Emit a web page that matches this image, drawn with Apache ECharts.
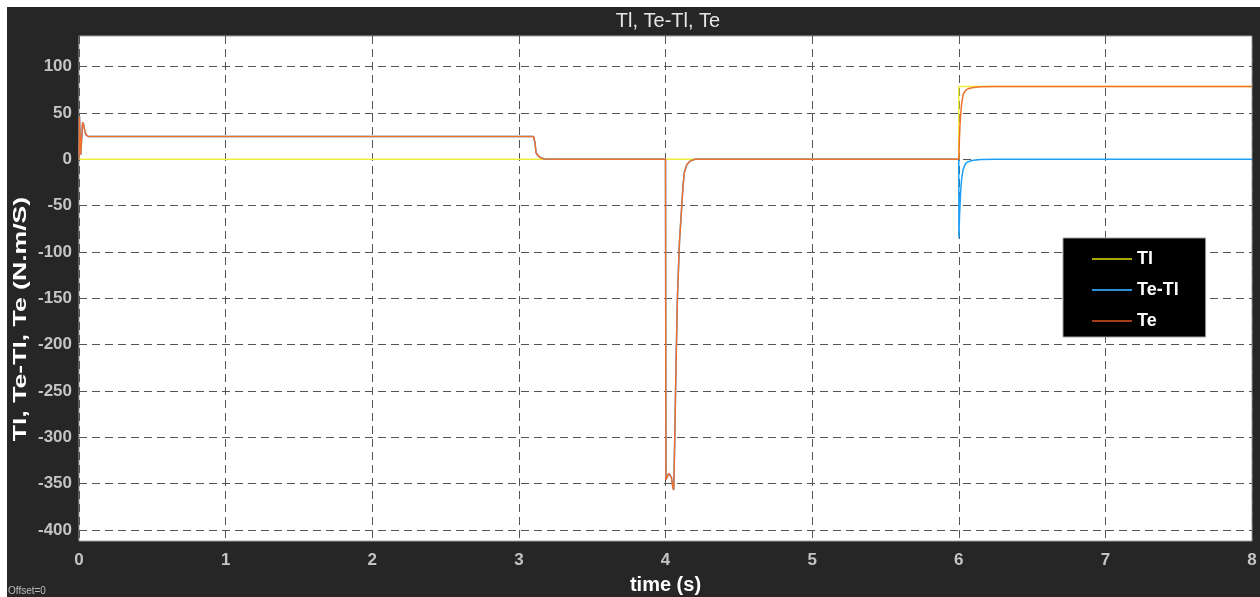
<!DOCTYPE html>
<html><head><meta charset="utf-8">
<script src="https://cdn.jsdelivr.net/npm/echarts@6/dist/echarts.min.js"></script>
<style>
html,body{margin:0;padding:0;background:#ffffff;width:1260px;height:597px;overflow:hidden;}
#bg{position:absolute;left:7px;top:7px;width:1253px;height:590px;background:#262626;}
#chart{position:absolute;left:0;top:0;width:1260px;height:597px;}
</style></head>
<body><div id="bg"></div><div id="chart"></div>
<script>
const xTicks = [0,1,2,3,4,5,6,7,8];
const yTicks = [-400,-350,-300,-250,-200,-150,-100,-50,0,50,100];
const seriesNames = ['Tl','Te-Tl','Te'];

// Tl (load torque)
const tlData = [[0,0],[6.0,0],[6.0,78.5],[8,78.5]];

// Te-Tl
const teTlData = [
 [0,0],[0.003,46],[0.008,22],[0.012,5],[0.018,22],[0.025,40],[0.032,37],[0.04,30],[0.05,26],[0.065,24.5],[0.1,24.5],
 [3.1,24.5],[3.11,18],[3.117,7],[3.13,4],[3.155,1],[3.18,0.3],[3.25,0],
 [4.0,0],[4.003,-346],[4.012,-348],[4.022,-339],[4.03,-337],[4.04,-343],[4.05,-354],[4.056,-357],[4.063,-303],[4.072,-220],[4.081,-151],[4.095,-90],[4.111,-50],[4.12,-28],[4.129,-14],[4.145,-6],[4.168,-2],[4.2,0],
 [6.0,0],[6.001,-85],[6.005,-62],[6.01,-45],[6.014,-32],[6.02,-21],[6.03,-11],[6.045,-5],[6.06,-3],[6.076,-2],[6.1,-1],[6.15,-0.3],[6.25,0],[8,0]
];

// Te (electromagnetic torque)
const teData = [
 [0,0],[0.003,46],[0.008,22],[0.012,5],[0.018,22],[0.025,40],[0.032,37],[0.04,30],[0.05,26],[0.065,24.5],[0.1,24.5],
 [3.1,24.5],[3.11,18],[3.117,7],[3.13,4],[3.155,1],[3.18,0.3],[3.25,0],
 [4.0,0],[4.003,-346],[4.012,-348],[4.022,-339],[4.03,-337],[4.04,-343],[4.05,-354],[4.056,-357],[4.063,-303],[4.072,-220],[4.081,-151],[4.095,-90],[4.111,-50],[4.12,-28],[4.129,-14],[4.145,-6],[4.168,-2],[4.2,0],
 [6.0,0],[6.004,20],[6.008,35],[6.014,50],[6.02,60],[6.03,70],[6.045,74],[6.06,75.8],[6.076,76.6],[6.1,77.4],[6.15,78.1],[6.25,78.5],[8,78.5]
];

const lineColors = ['#eeee3a','#1e9ff5','#f0702e'];
const legendColors = ['#a8a800','#2c8fd8','#a53c18'];
const FONT = 'Arial, "Liberation Sans", sans-serif';

const chart = echarts.init(document.getElementById('chart'), null, {renderer:'canvas'});
const datasets = [tlData, teTlData, teData];

chart.setOption({
  backgroundColor: 'transparent',
  animation: false,
  title: {
    text: 'Tl, Te-Tl, Te',
    left: 663, top: 6, textAlign: 'center',
    textStyle: {color:'#e6e6e6', fontSize:20, fontWeight:'normal', fontFamily: FONT}
  },
  grid: {
    left: 79, top: 36, width: 1173, height: 505,
    outerBoundsMode: 'none', containLabel: false,
    show: true, backgroundColor: '#ffffff', borderColor: '#a0a0a0', borderWidth: 1
  },
  legend: {
    orient: 'vertical',
    left: 1063, top: 238,
    backgroundColor: '#000000',
    borderColor: '#a0a0a0', borderWidth: 1, borderRadius: 0,
    padding: [12, 27, 7, 28],
    itemWidth: 40, itemHeight: 14, itemGap: 13,
    textStyle: {color:'#ffffff', fontSize:18, fontWeight:'bold', fontFamily: FONT},
    data: seriesNames.map((n,i)=>({name:n, lineStyle:{color:legendColors[i], width:2}, itemStyle:{color:legendColors[i], opacity:0}}))
  },
  xAxis: {
    type: 'value', min: 0, max: 8, interval: 1,
    name: 'time (s)', nameLocation: 'middle', nameGap: 34,
    nameTextStyle: {color:'#ffffff', fontSize:20, fontWeight:'bold', fontFamily: FONT},
    axisLine: {show:false}, axisTick: {show:false},
    axisLabel: {color:'#c4c4c4', fontSize:17, fontWeight:'bold', fontFamily: FONT, margin: 11},
    splitLine: {show:true, lineStyle:{color:'#555555', width:1, type:[8,5]}}
  },
  yAxis: {
    type: 'value', min: -412, max: 133,
    axisLine: {show:false},
    axisTick: {show:false, customValues: yTicks},
    axisLabel: {customValues: yTicks, color:'#c4c4c4', fontSize:17, fontWeight:'bold', fontFamily: FONT, margin: 7},
    splitLine: {show:true, lineStyle:{color:'#555555', width:1, type:[8,5]}}
  },
  graphic: [
    {type:'text', left: 8, top: 586, style:{text:'Offset=0', fill:'#bdbdbd', fontSize:10, fontFamily: FONT}},
    {type:'text', x: 21, y: 319, rotation: Math.PI/2, scaleX: 1.4, scaleY: 1,
     style:{text:'Tl, Te-Tl, Te (N.m/S)', fill:'#ffffff', fontSize:19, fontWeight:'bold', fontFamily: FONT, align:'center', verticalAlign:'middle'}}
  ],
  series: seriesNames.map((n,i)=>({
    name: n, type: 'line', data: datasets[i],
    showSymbol: false, symbol: 'none', smooth: false,
    lineStyle: {color: lineColors[i], width: 1.5},
    itemStyle: {color: lineColors[i]},
    z: 2 + i
  }))
});
</script></body></html>
